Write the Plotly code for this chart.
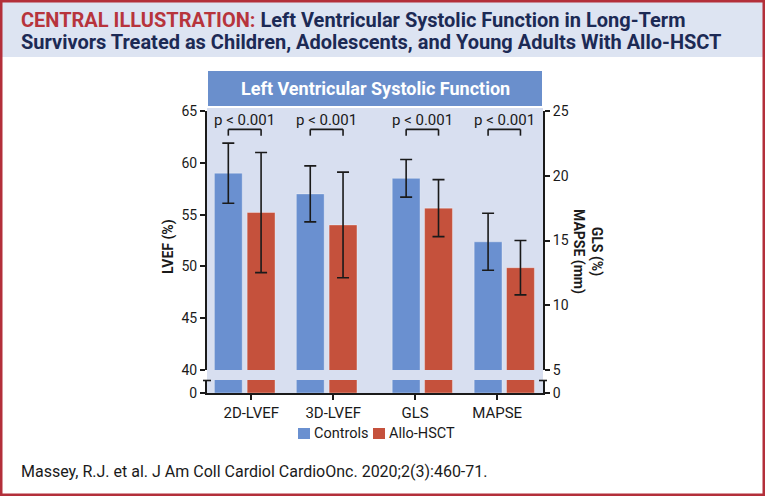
import plotly.graph_objects as go

# ---------------- data ----------------
categories = ["2D-LVEF", "3D-LVEF", "GLS", "MAPSE"]
lvef_cats = ["2D-LVEF", "3D-LVEF"]          # left axis (LVEF %)
right_cats = ["GLS", "MAPSE"]               # right axis (GLS % / MAPSE mm)

controls_lvef = [59.0, 57.0]
controls_lvef_sd = [2.9, 2.7]
allo_lvef = [55.2, 54.0]
allo_lvef_sd = [5.8, 5.1]

controls_right = [19.8, 14.9]
controls_right_sd = [1.45, 2.2]
allo_right = [17.5, 12.9]
allo_right_sd = [2.2, 2.1]

series_names = ["Controls", "Allo-HSCT"]
p_labels = ["p < 0.001", "p < 0.001", "p < 0.001", "p < 0.001"]
left_ticks = [40, 45, 50, 55, 60, 65]
right_ticks = [5, 10, 15, 20, 25]

# ---------------- style ----------------
W, H = 765, 496
BLUE = "#6a90d0"
RED = "#c5513c"
PLOT_BG = "#d8dff0"
BANNER_BG = "#dde4f2"
HEADER = "#6a8fcc"
BORDER = "#b32f3a"
INK = "#1a1a1a"
TXT_FONT = "Roboto, Lato, sans-serif"

def px(x):
    return x / W

def py(y):
    return 1 - y / H

XDOM = [px(207), px(543)]
UP_DOM = [py(370), py(111)]
LO_DOM = [py(393), py(380)]
XR = [-0.54, 3.56]

BW = 0.34
OFF_L_C, OFF_L_A = -0.45, -0.05
OFF_R_C, OFF_R_A = -0.28, 0.115

idx_l = [categories.index(c) for c in lvef_cats]
idx_r = [categories.index(c) for c in right_cats]

fig = go.Figure()
line_style = dict(color="rgba(255,255,255,0.35)", width=1)
err_style = dict(type="data", color=INK, thickness=1.6, width=6)

# upper panel
fig.add_trace(go.Bar(x=idx_l, y=controls_lvef, name=series_names[0], legendgroup="c",
                     marker=dict(color=BLUE, line=line_style), offset=OFF_L_C, width=BW,
                     error_y=dict(array=controls_lvef_sd, **err_style),
                     xaxis="x", yaxis="y"))
fig.add_trace(go.Bar(x=idx_l, y=allo_lvef, name=series_names[1], legendgroup="a",
                     marker=dict(color=RED, line=line_style), offset=OFF_L_A, width=BW,
                     error_y=dict(array=allo_lvef_sd, **err_style),
                     xaxis="x", yaxis="y"))
fig.add_trace(go.Bar(x=idx_r, y=controls_right, name=series_names[0], legendgroup="c",
                     marker=dict(color=BLUE, line=line_style), offset=OFF_R_C, width=BW,
                     error_y=dict(array=controls_right_sd, **err_style),
                     xaxis="x", yaxis="y2"))
fig.add_trace(go.Bar(x=idx_r, y=allo_right, name=series_names[1], legendgroup="a",
                     marker=dict(color=RED, line=line_style), offset=OFF_R_A, width=BW,
                     error_y=dict(array=allo_right_sd, **err_style),
                     xaxis="x", yaxis="y2"))
# lower (broken-axis stub)
fig.add_trace(go.Bar(x=idx_l, y=controls_lvef, name=series_names[0], legendgroup="c",
                     marker=dict(color=BLUE, line=line_style), offset=OFF_L_C, width=BW,
                     xaxis="x2", yaxis="y3", hoverinfo="skip"))
fig.add_trace(go.Bar(x=idx_l, y=allo_lvef, name=series_names[1], legendgroup="a",
                     marker=dict(color=RED, line=line_style), offset=OFF_L_A, width=BW,
                     xaxis="x2", yaxis="y3", hoverinfo="skip"))
fig.add_trace(go.Bar(x=idx_r, y=controls_right, name=series_names[0], legendgroup="c",
                     marker=dict(color=BLUE, line=line_style), offset=OFF_R_C, width=BW,
                     xaxis="x2", yaxis="y4", hoverinfo="skip"))
fig.add_trace(go.Bar(x=idx_r, y=allo_right, name=series_names[1], legendgroup="a",
                     marker=dict(color=RED, line=line_style), offset=OFF_R_A, width=BW,
                     xaxis="x2", yaxis="y4", hoverinfo="skip"))

axis_common = dict(showline=True, linewidth=2, linecolor=INK, ticks="outside",
                   ticklen=5, tickwidth=1.5, tickcolor=INK, showgrid=False, zeroline=False,
                   automargin=False,
                   tickfont=dict(family=TXT_FONT, size=14, color=INK), fixedrange=True)

fig.update_layout(
    width=W, height=H, autosize=False,
    margin=dict(l=0, r=0, t=0, b=0, pad=0, autoexpand=False),
    paper_bgcolor="white", plot_bgcolor="rgba(0,0,0,0)",
    barmode="overlay",
    xaxis=dict(domain=XDOM, anchor="y", range=XR, showticklabels=False, showline=False,
               ticks="", showgrid=False, zeroline=False, fixedrange=True),
    xaxis2=dict(domain=XDOM, anchor="y3", range=XR, tickmode="array",
                tickvals=list(range(len(categories))), ticktext=categories,
                **{**axis_common, "tickfont": dict(family=TXT_FONT, size=15, color=INK)}),
    yaxis=dict(domain=UP_DOM, anchor="x", range=[40, 65], tickvals=left_ticks, **axis_common),
    yaxis2=dict(overlaying="y", side="right", anchor="x", range=[5, 25], tickvals=right_ticks,
                **axis_common),
    yaxis3=dict(domain=LO_DOM, anchor="x2", range=[0, 1], tickvals=[0], **axis_common),
    yaxis4=dict(overlaying="y3", side="right", anchor="x2", range=[0, 1], tickvals=[0],
                **axis_common),
    showlegend=False,
)

shapes = []
# banner background
shapes.append(dict(type="rect", xref="paper", yref="paper", x0=0, x1=1, y0=py(57), y1=1,
                   fillcolor=BANNER_BG, line=dict(width=0), layer="below"))
# plot panel background
shapes.append(dict(type="rect", xref="paper", yref="paper", x0=px(207), x1=px(543),
                   y0=py(393), y1=py(108), fillcolor=PLOT_BG, line=dict(width=0), layer="below"))
# header bar
shapes.append(dict(type="rect", xref="paper", yref="paper", x0=px(208), x1=px(542),
                   y0=py(106), y1=py(71), fillcolor=HEADER, line=dict(width=0), layer="below"))
# axis break serifs
for xa in (207, 543):
    shapes.append(dict(type="line", xref="paper", yref="paper", x0=px(xa - 4), x1=px(xa + 4),
                       y0=py(380.5), y1=py(380.5), line=dict(color=INK, width=1.6)))
# significance brackets
br_top, br_leg = 63.23, 62.62
for i, c in enumerate(categories):
    if c in lvef_cats:
        xc, xa_ = i + OFF_L_C + BW / 2, i + OFF_L_A + BW / 2
    else:
        xc, xa_ = i + OFF_R_C + BW / 2, i + OFF_R_A + BW / 2
    for (x0, y0, x1, y1) in [(xc, br_top, xa_, br_top), (xc, br_top, xc, br_leg), (xa_, br_top, xa_, br_leg)]:
        shapes.append(dict(type="line", xref="x", yref="y", x0=x0, y0=y0, x1=x1, y1=y1,
                           line=dict(color=INK, width=1.6)))
# compact legend (swatches)
legend_x = [298, 373]
for sx, col in zip(legend_x, [BLUE, RED]):
    shapes.append(dict(type="rect", xref="paper", yref="paper", x0=px(sx), x1=px(sx + 12),
                       y0=py(439), y1=py(428), fillcolor=col, line=dict(width=0)))
# outer border
shapes.append(dict(type="rect", xref="paper", yref="paper", x0=0, x1=1, y0=0, y1=1,
                   line=dict(color=BORDER, width=5), fillcolor="rgba(0,0,0,0)"))

annotations = []
for i, c in enumerate(categories):
    if c in lvef_cats:
        xm = i + (OFF_L_C + OFF_L_A + BW) / 2
    else:
        xm = i + (OFF_R_C + OFF_R_A + BW) / 2
    annotations.append(dict(x=xm, y=64.13, xref="x", yref="y", text=p_labels[i], showarrow=False,
                            xanchor="center", yanchor="middle",
                            font=dict(family=TXT_FONT, size=15, color=INK)))
# legend labels
for sx, name in zip(legend_x, series_names):
    annotations.append(dict(x=px(sx + 14), y=py(433.5), xref="paper", yref="paper", text=name,
                            showarrow=False, xanchor="left", yanchor="middle",
                            font=dict(family=TXT_FONT, size=14.5, color=INK)))

mid = dict(xanchor="center", yanchor="middle", xref="paper", yref="paper", showarrow=False)
annotations += [
    dict(x=px(375), y=py(88), text="<b>Left Ventricular Systolic Function</b>",
         font=dict(family=TXT_FONT, size=18, color="white"), **mid),
    dict(x=px(168), y=py(247), textangle=-90, text="<b>LVEF (%)</b>",
         font=dict(family=TXT_FONT, size=14, color=INK), **mid),
    dict(x=px(588), y=py(251), textangle=90, text="<b>GLS (%)<br>MAPSE (mm)</b>",
         font=dict(family=TXT_FONT, size=14, color=INK), **mid),
    dict(x=px(19), y=py(20), xref="paper", yref="paper", showarrow=False,
         xanchor="left", yanchor="middle",
         text="<b><span style='color:#b7343c'>CENTRAL ILLUSTRATION:</span> Left Ventricular Systolic Function in Long-Term</b>",
         font=dict(family=TXT_FONT, size=20, color="#1c2a55")),
    dict(x=px(19), y=py(42), xref="paper", yref="paper", showarrow=False,
         xanchor="left", yanchor="middle",
         text="<b>Survivors Treated as Children, Adolescents, and Young Adults With Allo-HSCT</b>",
         font=dict(family=TXT_FONT, size=20, color="#1c2a55")),
    dict(x=px(19), y=py(471), xref="paper", yref="paper", showarrow=False,
         xanchor="left", yanchor="middle",
         text="Massey, R.J. et al. J Am Coll Cardiol CardioOnc. 2020;2(3):460-71.",
         font=dict(family=TXT_FONT, size=16, color=INK)),
]

fig.update_layout(shapes=shapes, annotations=annotations)
fig.write_html("out.html", config={"displayModeBar": False},
               post_script="document.body.style.margin='0';document.body.style.overflow='hidden';")
